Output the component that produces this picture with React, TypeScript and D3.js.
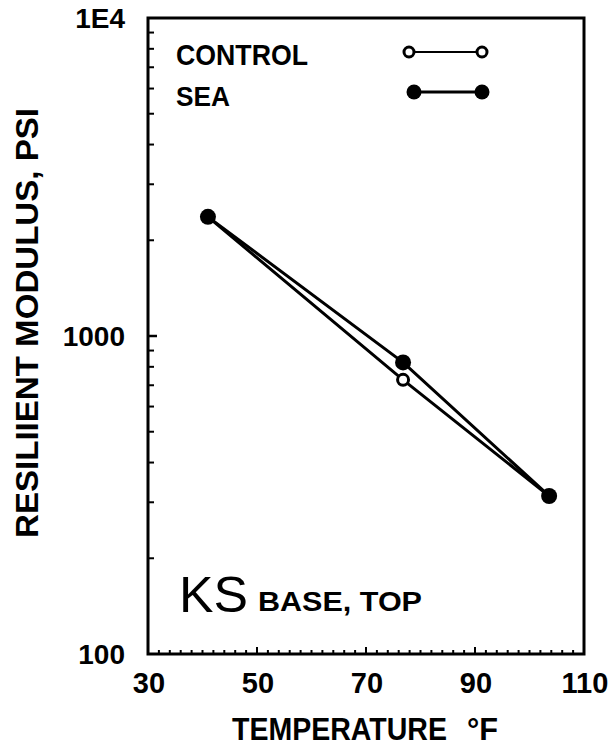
import React from "react";
import * as d3 from "d3";

const temps = [41, 76.8, 103.6];
const controlValues = [2370, 728, 314];
const seaValues = [2370, 826, 314];
const xTicks = [30, 50, 70, 90, 110];
const yTickLabels = [
  { v: 100, t: "100" },
  { v: 1000, t: "1000" },
  { v: 10000, t: "1E4" },
];
const legendItems = ["CONTROL", "SEA"];

const W = 615, H = 752;
const L = 148, R = 584, T = 18, B = 654;

export default function App() {
  const x = d3.scaleLinear().domain([30, 110]).range([L, R]);
  const y = d3.scaleLog().domain([100, 10000]).range([B, T]);
  const line = d3.line<number>().x((_, i) => x(temps[i])).y((v) => y(v));

  const minorY: number[] = [];
  for (let dec = 100; dec < 10000; dec *= 10) {
    for (let k = 2; k <= 9; k++) minorY.push(dec * k);
  }
  const minorX = d3.range(32, 110, 2);
  const font = "'Liberation Sans', Arial, sans-serif";

  return (
    <svg width={W} height={H} style={{ position: "absolute", left: 0, top: 0, background: "#fff" }}>
      <rect x={L} y={T} width={R - L} height={B - T} fill="none" stroke="#000" strokeWidth={3} />
      {minorY.map((v) => (
        <line key={"my" + v} x1={L} x2={L + 6} y1={y(v)} y2={y(v)} stroke="#000" strokeWidth={2} />
      ))}
      {[1000].map((v) => (
        <line key={"My" + v} x1={L} x2={L + 9} y1={y(v)} y2={y(v)} stroke="#000" strokeWidth={2.5} />
      ))}
      {minorX.map((v) => (
        <line key={"mx" + v} x1={x(v)} x2={x(v)} y1={B} y2={B - (v % 20 === 10 ? 7 : 4)} stroke="#000" strokeWidth={2} />
      ))}
      {xTicks.map((v) => (
        <text key={"xt" + v} x={x(v) + 1} y={693} textAnchor="middle" fontFamily={font} fontWeight="bold" fontSize={29} fill="#000">{v}</text>
      ))}
      {yTickLabels.map((d) => (
        <text key={"yt" + d.v} x={L - 23} y={y(d.v) + 10} textAnchor="end" fontFamily={font} fontWeight="bold" fontSize={28} fill="#000">{d.t}</text>
      ))}
      <text x={232} y={740} fontFamily={font} fontWeight="bold" fontSize={31} fill="#000" textLength={215} lengthAdjust="spacingAndGlyphs">TEMPERATURE</text>
      <text x={467} y={740} fontFamily={font} fontWeight="bold" fontSize={31} fill="#000" textLength={31} lengthAdjust="spacingAndGlyphs">°F</text>
      <text transform="translate(38 323) rotate(-90)" x={-215} y={0} fontFamily={font} fontWeight="bold" fontSize={32} fill="#000" textLength={430} lengthAdjust="spacingAndGlyphs">RESILIIENT MODULUS, PSI</text>

      {/* legend */}
      <text x={176} y={65} fontFamily={font} fontWeight="bold" fontSize={30} fill="#000" textLength={132} lengthAdjust="spacingAndGlyphs">{legendItems[0]}</text>
      <text x={176} y={106} fontFamily={font} fontWeight="bold" fontSize={28} fill="#000" textLength={54} lengthAdjust="spacingAndGlyphs">{legendItems[1]}</text>
      <line x1={409} x2={482} y1={52} y2={52} stroke="#000" strokeWidth={2} />
      <circle cx={409} cy={52} r={5} fill="#fff" stroke="#000" strokeWidth={3} />
      <circle cx={482} cy={52} r={5} fill="#fff" stroke="#000" strokeWidth={3} />
      <line x1={414} x2={482} y1={92} y2={92} stroke="#000" strokeWidth={3} />
      <circle cx={414} cy={92} r={7.5} fill="#000" />
      <circle cx={482} cy={92} r={7.5} fill="#000" />

      {/* series */}
      <path d={line(controlValues) || ""} fill="none" stroke="#000" strokeWidth={3} />
      <path d={line(seaValues) || ""} fill="none" stroke="#000" strokeWidth={3} />
      {controlValues.map((v, i) => (
        <circle key={"c" + i} cx={x(temps[i])} cy={y(v)} r={5.5} fill="#fff" stroke="#000" strokeWidth={3} />
      ))}
      {seaValues.map((v, i) => (
        <circle key={"s" + i} cx={x(temps[i])} cy={y(v)} r={8} fill="#000" />
      ))}

      <text x={179} y={612} fontFamily={font} fontSize={50} fill="#000" textLength={69} lengthAdjust="spacingAndGlyphs">KS</text>
      <text x={258} y={611} fontFamily={font} fontWeight="bold" fontSize={27} fill="#000" textLength={164} lengthAdjust="spacingAndGlyphs">BASE, TOP</text>
    </svg>
  );
}
